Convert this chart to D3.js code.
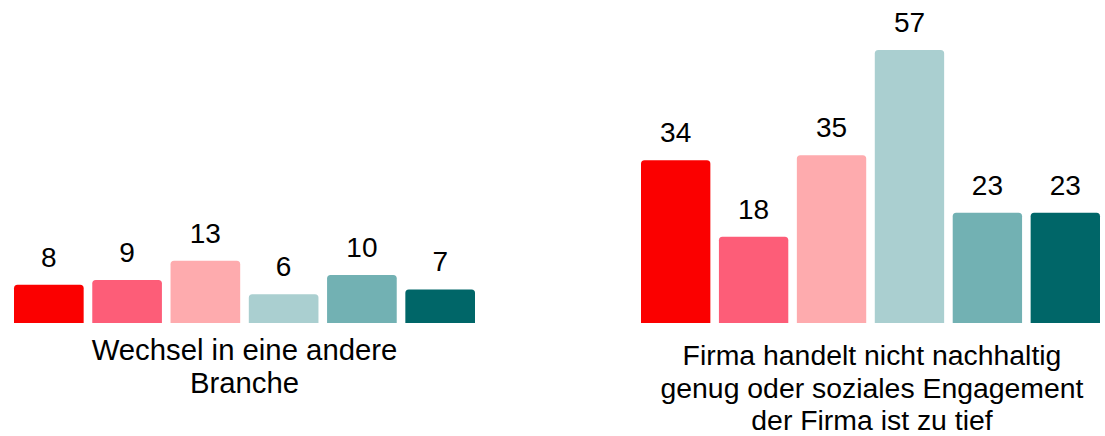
<!DOCTYPE html>
<html>
<head>
<meta charset="utf-8">
<script src="https://cdn.jsdelivr.net/npm/d3@7"></script>
<style>
  html, body { margin: 0; padding: 0; background: #ffffff; }
  svg { display: block; }
  text { font-family: "Liberation Sans", Arial, sans-serif; fill: #000; }
</style>
</head>
<body>
<svg id="chart" width="1105" height="436"></svg>
<script>
const series = ["s1", "s2", "s3", "s4", "s5", "s6"];
const seriesColors = ["#FB0000", "#FD5D78", "#FEABAE", "#AACFD0", "#72B1B3", "#006668"];
const groupLabels = [
  ["Wechsel in eine andere", "Branche"],
  ["Firma handelt nicht nachhaltig", "genug oder soziales Engagement", "der Firma ist zu tief"]
];
const valuesGroup1 = [8, 9, 13, 6, 10, 7];
const valuesGroup2 = [34, 18, 35, 57, 23, 23];
const groupValues = [valuesGroup1, valuesGroup2];

const svg = d3.select("#chart");
const baseline = 323;
const y = d3.scaleLinear().domain([0, 57]).range([baseline, 50]);

const groupRanges = [[14, 475], [641, 1100]];
const labelTop = [360, 365];
const labelSize = [29.3, 28.4];
const labelShift = [0, 1.5];
const lineH = 32.5;

function roundedTopBar(x, yTop, w, h, r) {
  r = Math.min(r, w / 2, h);
  return `M${x},${yTop + h}V${yTop + r}Q${x},${yTop} ${x + r},${yTop}H${x + w - r}Q${x + w},${yTop} ${x + w},${yTop + r}V${yTop + h}Z`;
}

groupValues.forEach((vals, gi) => {
  const x = d3.scaleBand().domain(series).range(groupRanges[gi]).paddingInner(0.11).paddingOuter(0);
  const g = svg.append("g");
  g.selectAll("path.bar").data(vals).join("path")
    .attr("class", "bar")
    .attr("fill", (d, i) => seriesColors[i])
    .attr("d", (d, i) => roundedTopBar(x(series[i]), y(d), x.bandwidth(), baseline - y(d), 3.5));
  g.selectAll("text.val").data(vals).join("text")
    .attr("class", "val")
    .attr("x", (d, i) => x(series[i]) + x.bandwidth() / 2)
    .attr("y", d => y(d) - 18)
    .attr("text-anchor", "middle")
    .attr("font-size", 28)
    .text(d => d);
  const cx = (groupRanges[gi][0] + groupRanges[gi][1]) / 2 + labelShift[gi];
  const t = g.append("text").attr("text-anchor", "middle").attr("font-size", labelSize[gi]);
  groupLabels[gi].forEach((line, li) => {
    t.append("tspan").attr("x", cx).attr("y", labelTop[gi] + li * lineH).text(line);
  });
});
</script>
</body>
</html>
